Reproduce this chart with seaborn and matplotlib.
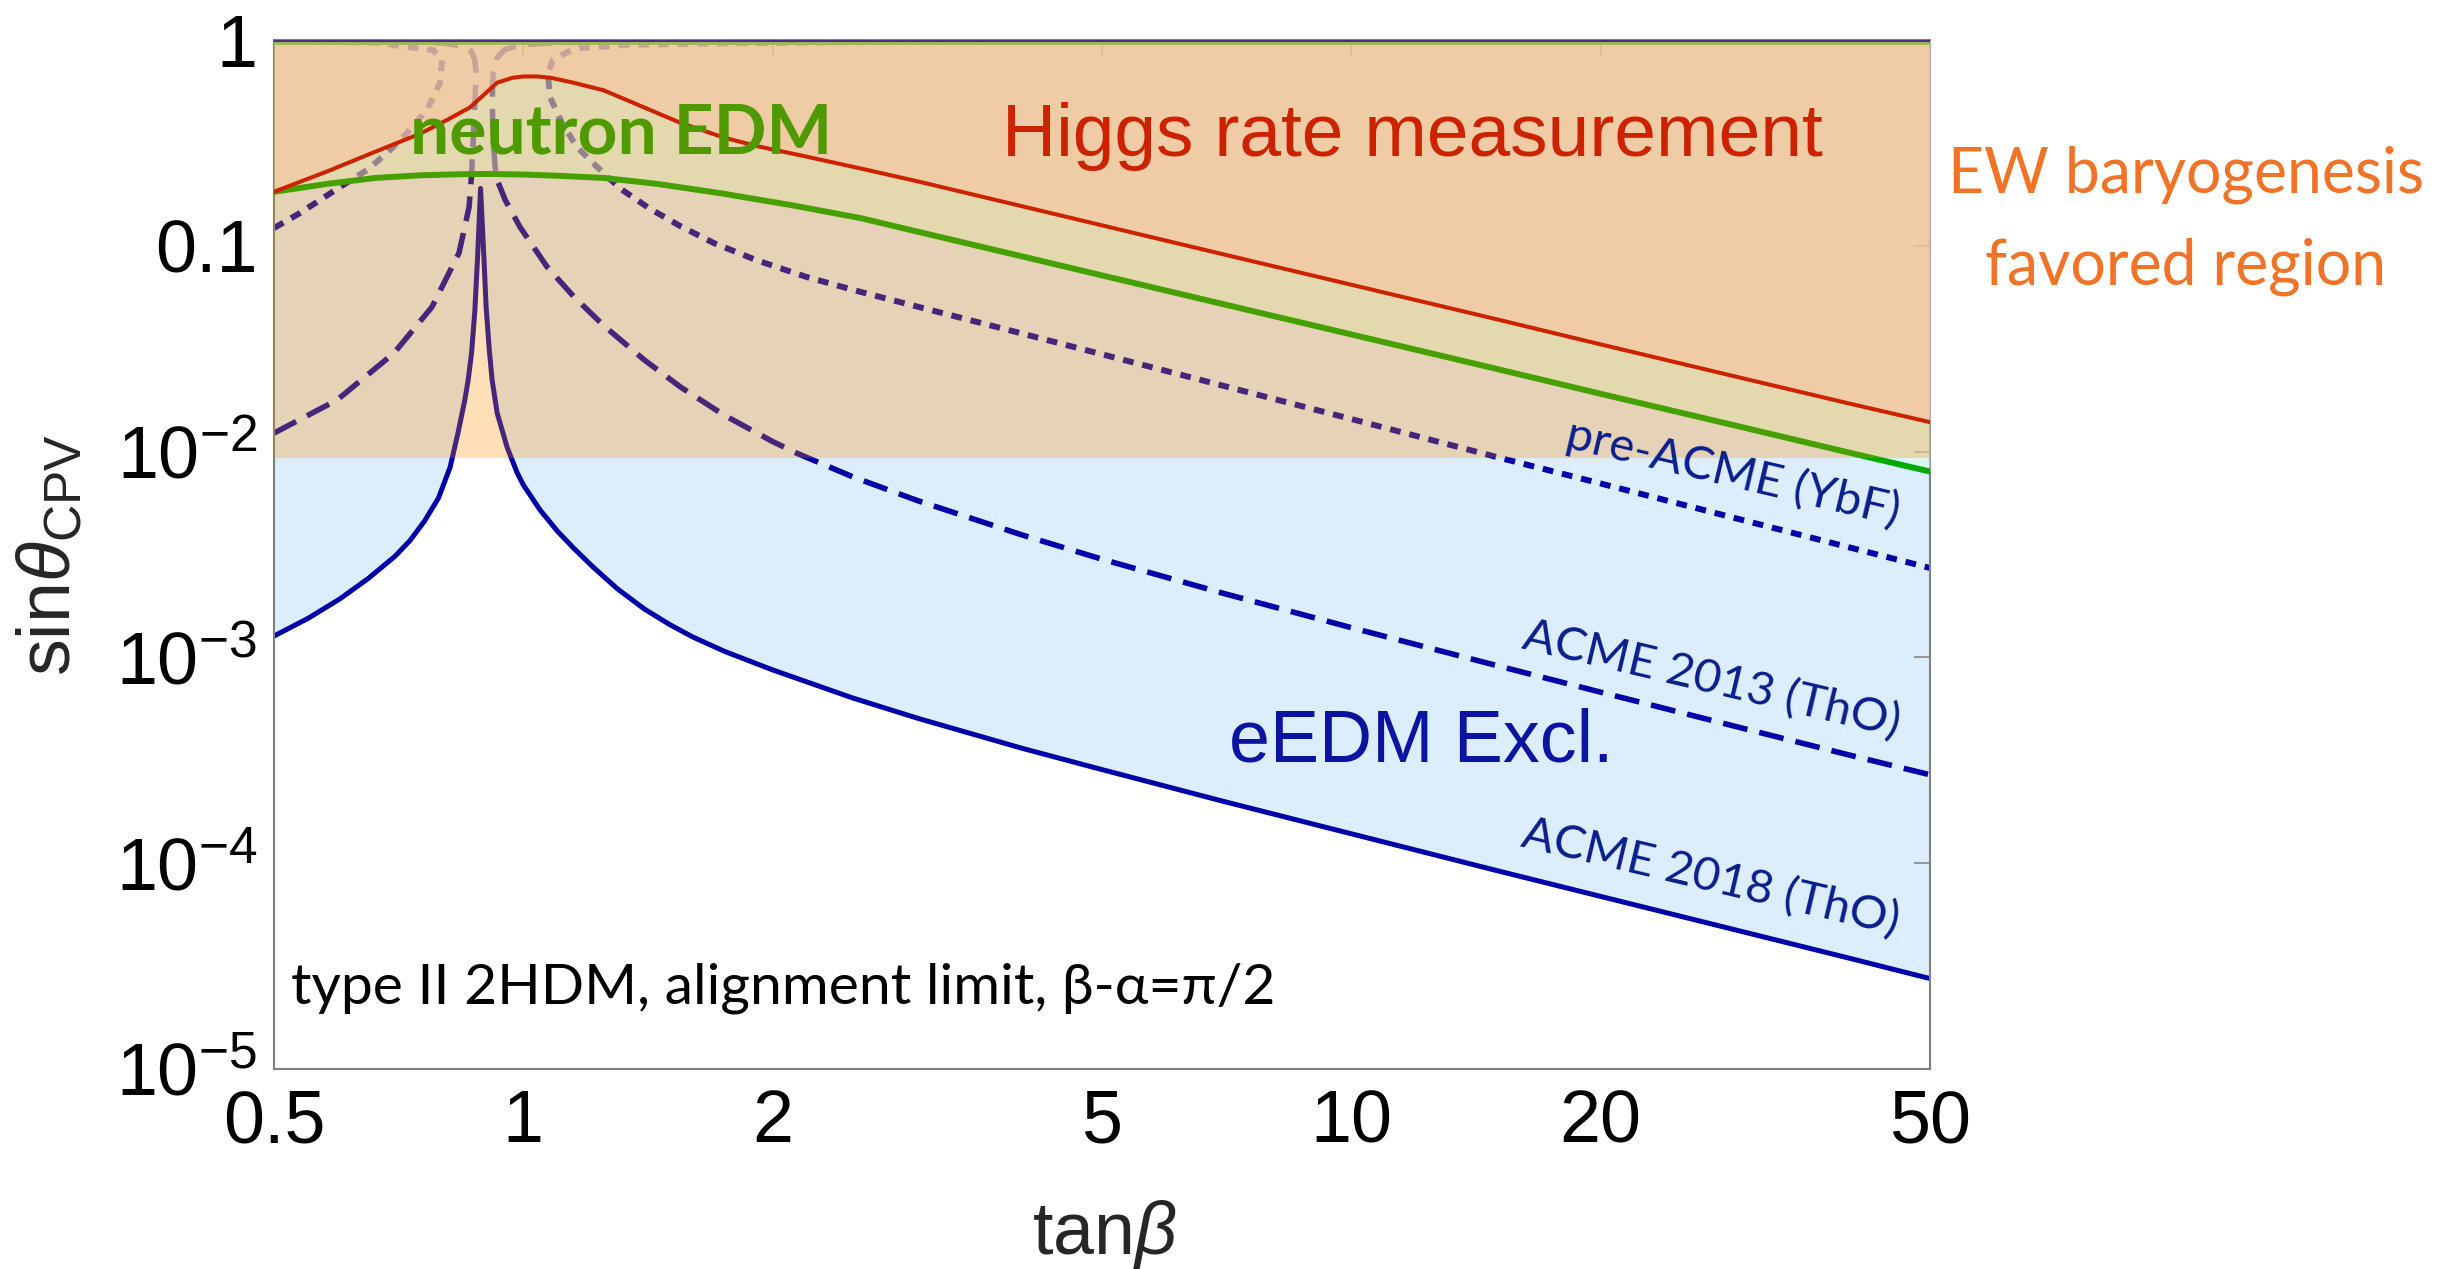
import matplotlib
matplotlib.use("Agg")
import matplotlib.pyplot as plt
from matplotlib.ticker import FixedLocator, FixedFormatter, NullLocator
import numpy as np
import pandas as pd
import seaborn as sns

# ---------------- data ----------------
x_ticks = [0.5, 1, 2, 5, 10, 20, 50]
x_ticklabels = ["0.5", "1", "2", "5", "10", "20", "50"]
y_ticks = [1e-5, 1e-4, 1e-3, 1e-2, 0.1, 1]
y_ticklabels = [r"$10^{-5}$", r"$10^{-4}$", r"$10^{-3}$", r"$10^{-2}$", "0.1", "1"]

# ACME 2018 (ThO), solid
tanb_2018 = [0.5, 0.55, 0.6, 0.65, 0.7, 0.73, 0.76, 0.79, 0.816, 0.834, 0.85, 0.858, 0.866,
             0.874, 0.881, 0.888, 0.895, 0.902, 0.91, 0.917, 0.93, 0.956, 0.983, 1.0, 1.048,
             1.1, 1.15, 1.214, 1.3, 1.4, 1.5, 1.6, 1.75, 2, 2.5, 3, 4, 5, 7, 10, 15, 20, 30,
             40, 50]
sin_2018 = [1.27e-3, 1.55e-3, 1.92e-3, 2.42e-3, 3.1e-3, 3.7e-3, 4.6e-3, 5.95e-3, 8.4e-3,
            0.0123, 0.0178, 0.0223, 0.030, 0.048, 0.09, 0.19, 0.10, 0.05, 0.031, 0.0223,
            0.0154, 0.0105, 0.0079, 0.0069, 0.0052, 0.0041, 0.0034, 0.00275, 0.00215,
            0.00172, 0.00145, 0.00126, 0.00107, 8.7e-4, 6.35e-4, 5.05e-4, 3.62e-4, 2.85e-4,
            2.0e-4, 1.39e-4, 9.2e-5, 6.9e-5, 4.6e-5, 3.45e-5, 2.75e-5]

# ACME 2013 (ThO), dashed : left piece (lower branch + turn back along the top)
tanb_2013_l = [0.5, 0.5957, 0.698, 0.7757, 0.8364, 0.8601, 0.866, 0.870, 0.873, 0.876,
               0.877, 0.874, 0.866, 0.85, 0.8, 0.7, 0.5]
sin_2013_l = [0.0123, 0.0178, 0.0301, 0.0504, 0.0923, 0.154, 0.22, 0.32, 0.45, 0.60,
              0.70, 0.80, 0.88, 0.93, 0.965, 0.985, 0.995]
# right piece (top branch + lower branch)
tanb_2013_r = [50, 5, 2, 1.5, 1.1, 1.0, 0.95, 0.93, 0.92, 0.918, 0.918, 0.92, 0.925, 0.930,
               0.951, 0.991, 1.068, 1.15, 1.252, 1.4, 1.551, 1.75, 2.0, 2.135, 2.5, 3, 4, 5,
               7, 10, 15, 20, 30, 40, 50]
sin_2013_r = [0.9999, 0.999, 0.995, 0.99, 0.97, 0.95, 0.90, 0.82, 0.70, 0.60, 0.45, 0.32,
              0.24, 0.209, 0.167, 0.1234, 0.0792, 0.0568, 0.0408, 0.0279, 0.0205, 0.0150,
              0.0112, 0.00986, 0.00754, 0.00576, 0.00394, 0.0030, 0.00205, 0.001395,
              9.12e-4, 6.78e-4, 4.48e-4, 3.35e-4, 2.69e-4]

# pre-ACME (YbF), dotted
tanb_ybf_l = [0.5, 0.5375, 0.6007, 0.6476, 0.6847, 0.7237, 0.7651, 0.7933, 0.7979,
              0.778, 0.7237, 0.671, 0.6, 0.5]
sin_ybf_l = [0.122, 0.1443, 0.193, 0.2335, 0.2825, 0.3533, 0.457, 0.618, 0.80,
             0.894, 0.925, 0.967, 0.978, 0.985]
tanb_ybf_r = [50, 10, 5, 2.5, 1.6, 1.323, 1.238, 1.171, 1.13, 1.086, 1.071, 1.077, 1.114,
              1.161, 1.214, 1.309, 1.42, 1.551, 1.7, 1.915, 2.2, 2.551, 3, 4, 5, 7, 10, 15,
              20, 30, 40, 50]
sin_ybf_r = [0.999, 0.995, 0.99, 0.975, 0.96, 0.946, 0.925, 0.914, 0.874, 0.80, 0.691,
             0.528, 0.395, 0.302, 0.2525, 0.19, 0.152, 0.124, 0.103, 0.085, 0.0705, 0.0598,
             0.0505, 0.0375, 0.0297, 0.0209, 0.0144, 0.0094, 0.0070, 0.0046, 0.00342,
             0.00272]

# neutron EDM (green)
tanb_nedm = [0.5, 0.58, 0.662, 0.75, 0.85, 0.912, 1.0, 1.1, 1.252, 1.45, 1.723, 2.1, 2.551,
             3, 4, 5, 7, 10, 15, 20, 30, 40, 50]
sin_nedm = [0.183, 0.20, 0.2136, 0.22, 0.223, 0.2234, 0.222, 0.219, 0.2136, 0.20, 0.1806,
            0.158, 0.1365, 0.1169, 0.0889, 0.0718, 0.0521, 0.0371, 0.0252, 0.0191, 0.0130,
            0.00987, 0.0080]

# Higgs rate measurement (red)
tanb_higgs = [0.5, 0.58, 0.662, 0.75, 0.81, 0.862, 0.90, 0.93, 0.97, 1.0, 1.04, 1.08, 1.15,
              1.25, 1.4, 1.55, 1.75, 1.915, 2.2, 2.55, 3, 4, 5, 7, 10, 15, 20, 30, 40, 50]
sin_higgs = [0.183, 0.23, 0.286, 0.35, 0.41, 0.47, 0.55, 0.62, 0.655, 0.665, 0.665, 0.655,
             0.62, 0.57, 0.47, 0.395, 0.335, 0.305, 0.271, 0.238, 0.2053, 0.1558, 0.1257,
             0.091, 0.0647, 0.0439, 0.0332, 0.0225, 0.0171, 0.0139]

# upper contour branches hugging sin(theta)=1
tanb_top = [0.5, 50]
sin_top_edm = [0.997, 0.997]
sin_top_nedm = [0.978, 0.978]

# EW baryogenesis favoured band
ew_band = (0.0093, 1.0)

# ---------------- styling ----------------
sns.set_theme(style="white")
plt.rcParams["font.family"] = ["Liberation Sans", "DejaVu Sans"]
plt.rcParams["mathtext.fontset"] = "custom"
plt.rcParams["mathtext.rm"] = "Liberation Sans"
plt.rcParams["mathtext.it"] = "Liberation Sans:italic"
plt.rcParams["mathtext.bf"] = "Liberation Sans:bold"
plt.rcParams["mathtext.sf"] = "Liberation Sans"

W, H = 2452, 1269
fig = plt.figure(figsize=(W / 100, H / 100), dpi=100)
ax = fig.add_axes([274 / W, 1 - 1069 / H, 1656 / W, 1029 / H])
ax.set_xscale("log")
ax.set_yscale("log")
ax.set_axisbelow(False)

EDM = "#0000A8"


def sline(x, y, **kw):
    df = pd.DataFrame({"x": x, "y": y})
    sns.lineplot(data=df, x="x", y="y", sort=False, estimator=None, errorbar=None,
                 ax=ax, legend=False, **kw)


# eEDM exclusion (above ACME 2018)
ax.fill_between(tanb_2018, sin_2018, 1, color="#DCEDFE", lw=0, zorder=1)

# eEDM limits
sline(tanb_2018, sin_2018, color=EDM, lw=3.6, zorder=2, solid_joinstyle="round")
for xs, ys in [(tanb_2013_l, sin_2013_l), (tanb_2013_r, sin_2013_r)]:
    sline(xs, ys, color=EDM, lw=4.0, linestyle=(0, (4.5, 2.2)), dash_capstyle="butt", zorder=2)
for xs, ys in [(tanb_ybf_l, sin_ybf_l), (tanb_ybf_r, sin_ybf_r)]:
    sline(xs, ys, color=EDM, lw=4.3, linestyle=(0, (1.8, 1.5)), dash_capstyle="butt", zorder=2)

# neutron EDM region
ax.fill_between(tanb_nedm, sin_nedm, 1, color=(218 / 255, 1.0, 234 / 255), alpha=0.5, lw=0, zorder=3)
sline(tanb_nedm, sin_nedm, color="#00AA00", lw=4.3, zorder=4)

# Higgs rate region
ax.fill_between(tanb_higgs, sin_higgs, 1, color=(250 / 255, 215 / 255, 217 / 255), alpha=0.5, lw=0, zorder=5)

# EW baryogenesis band (overlay)
ax.axhspan(ew_band[0], ew_band[1], color="#FF8C00", alpha=0.28, lw=0, zorder=6)

sline(tanb_top, sin_top_nedm, color="#9DBA58", lw=3.5, zorder=7)
sline(tanb_top, sin_top_edm, color="#4B2C86", lw=2.2, zorder=7)
sline(tanb_higgs, sin_higgs, color="#CC2200", lw=2.9, zorder=8)

ax.set_xlim(0.5, 50)
ax.set_ylim(1e-5, 1)
ax.xaxis.set_major_locator(FixedLocator(x_ticks))
ax.xaxis.set_major_formatter(FixedFormatter(x_ticklabels))
ax.yaxis.set_major_locator(FixedLocator(y_ticks))
ax.yaxis.set_major_formatter(FixedFormatter(y_ticklabels))
ax.xaxis.set_minor_locator(NullLocator())
ax.yaxis.set_minor_locator(NullLocator())
ax.tick_params(which="major", direction="in", length=11.5, width=1.1, color="#7F7F7F",
               top=True, right=True, labelsize=53, labelcolor="black")
ax.tick_params(axis="x", pad=14)
ax.tick_params(axis="y", pad=12)
for s in ax.spines.values():
    s.set_color("#808080")
    s.set_linewidth(1.5)
ax.set_xlabel("")
ax.set_ylabel("")


def ftext(x, y, s, **kw):
    fig.text(x / W, 1 - y / H, s, **kw)


ftext(1104, 1198, r"tan$\beta$", fontsize=53, ha="center", va="top")
ftext(50, 555, r"sin$\theta_{\mathrm{CPV}}$", fontsize=53, rotation=90, ha="center", va="center")

ftext(1412, 156, "Higgs rate measurement", fontsize=54, color="#CC2200", ha="center", va="baseline")
ftext(621, 154, "neutron EDM", fontsize=50, fontweight="bold", color="#4E9A00",
      family=["Lato", "DejaVu Sans"], ha="center", va="baseline")
ftext(2186, 192, "EW baryogenesis", fontsize=45, color="#F07328",
      family=["Lato", "DejaVu Sans"], ha="center", va="baseline")
ftext(2186, 285, "favored region", fontsize=45, color="#F07328",
      family=["Lato", "DejaVu Sans"], ha="center", va="baseline")
ftext(1421, 762, "eEDM Excl.", fontsize=53, color="#0A14A0", ha="center", va="baseline")
ftext(291, 1003, "type II 2HDM, alignment limit, \u03b2-\u03b1=\u03c0/2", fontsize=41,
      color="black", family=["Lato", "DejaVu Sans"], ha="left", va="baseline")

for (cx, cy, s) in [(1733, 473, "pre-ACME (YbF)"), (1712, 680, "ACME 2013 (ThO)"),
                    (1711, 878, "ACME 2018 (ThO)")]:
    ftext(cx, cy, s, fontsize=34, color="#0A1E8C", rotation=-13.3, rotation_mode="anchor",
          family=["Lato", "DejaVu Sans"], ha="center", va="center")

fig.savefig("out.png", dpi=100)
